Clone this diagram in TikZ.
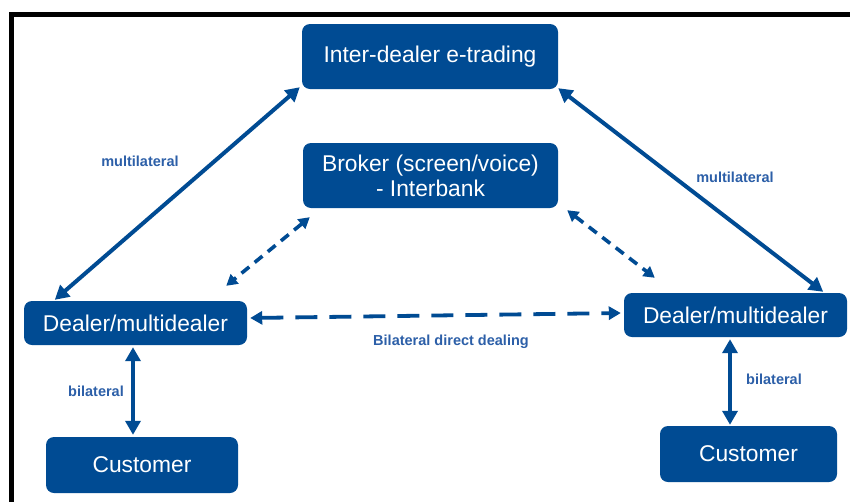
\documentclass[tikz,border=0pt]{standalone}
\usepackage{fontspec}
\setmainfont{Liberation Sans}
\usetikzlibrary{arrows.meta}
\definecolor{boxblue}{HTML}{004B93}
\definecolor{labelblue}{HTML}{2C5FA8}
\begin{document}
\begin{tikzpicture}[x=1pt,y=-1pt,
  box/.style={draw=none,fill=boxblue,rounded corners=8pt,text=white,
    align=center,inner sep=0pt,font=\fontsize{22.8}{25}\selectfont},
  lbl/.style={text=labelblue,font=\bfseries\fontsize{14.5}{16}\selectfont,inner sep=0pt},
  solidlink/.style={boxblue,line width=4pt,
    {Triangle[length=14pt,width=15pt]}-{Triangle[length=14pt,width=15pt]}},
  dashlink/.style={boxblue,line width=3.6pt,dash pattern=on 10pt off 7pt,
    {Triangle[length=11pt,width=12pt]}-{Triangle[length=11pt,width=12pt]}},
  longdash/.style={boxblue,line width=3.8pt,dash pattern=on 22pt off 12pt,
    {Triangle[length=12pt,width=13pt]}-{Triangle[length=12pt,width=13pt]}}]
\useasboundingbox (0,0) rectangle (850,501);
\fill[white] (0,0) rectangle (850,501);
% frame along the top and left edges
\draw[line width=5pt] (11.5,505) -- (11.5,14) -- (855,14);

% boxes
\node[box,minimum width=256pt,minimum height=65pt] (ide) at (430,56.5) {\raisebox{-2pt}{Inter-dealer e-trading}};
\node[box,minimum width=255pt,minimum height=65pt] (broker) at (430.5,175.5) {Broker (screen/voice)\\- Interbank};
\node[box,minimum width=223pt,minimum height=44pt] (ld) at (135.5,323) {\raisebox{-1pt}{Dealer/multidealer}};
\node[box,minimum width=223pt,minimum height=44pt] (rd) at (735.5,315) {\raisebox{-1pt}{Dealer/multidealer}};
\node[box,minimum width=192pt,minimum height=56pt] (lc) at (142,465) {\raisebox{-1pt}{Customer}};
\node[box,minimum width=177pt,minimum height=56pt] (rc) at (748.5,454) {\raisebox{-1pt}{Customer}};

% connectors
\draw[solidlink] ([xshift=31pt,yshift=1pt]ld.north west) -- ([xshift=-2pt,yshift=2pt]ide.south west);
\draw[solidlink] ([yshift=1pt]ide.south east) -- ([xshift=-24pt,yshift=1pt]rd.north east);
\draw[dashlink] ([xshift=7pt,yshift=-9pt]broker.south west) -- ([xshift=-21pt,yshift=15pt]ld.north east);
\draw[dashlink] ([xshift=9pt,yshift=-2pt]broker.south east) -- ([xshift=31pt,yshift=15pt]rd.north west);
\draw[longdash] ([xshift=3pt,yshift=5pt]ld.east) -- ([xshift=-3pt,yshift=2pt]rd.west);
\draw[solidlink] ([xshift=-2.5pt,yshift=-2pt]ld.south) -- ([xshift=-9pt,yshift=2pt]lc.north);
\draw[solidlink] ([xshift=-5.5pt,yshift=-2pt]rd.south) -- ([xshift=-18.5pt,yshift=1pt]rc.north);

% labels
\node[lbl] (ml1) at (140,161) {multilateral};
\node[lbl] (ml2) at (735,177) {multilateral};
\node[lbl] (bl1) at (96,391) {bilateral};
\node[lbl] (bl2) at (774,379) {bilateral};
\node[lbl] (bdd) at (451,342) {Bilateral direct dealing};
\end{tikzpicture}
\end{document}
